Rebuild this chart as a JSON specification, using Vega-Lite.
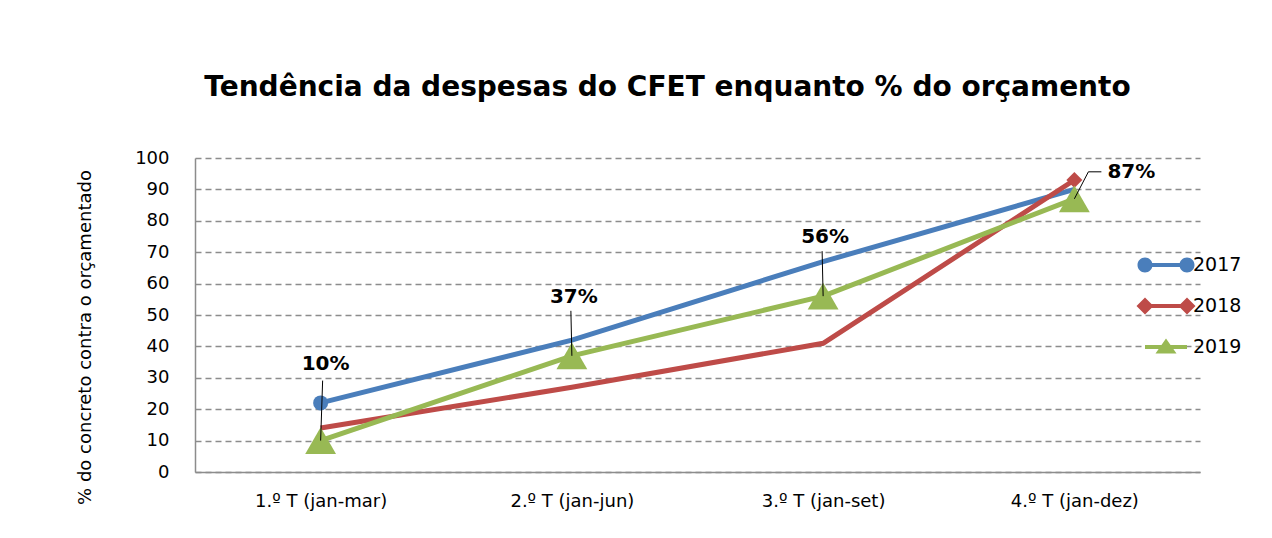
{
  "$schema": "https://vega.github.io/schema/vega-lite/v6.json",
  "width": 1005,
  "height": 314,
  "autosize": {"type": "none"},
  "padding": {"left": 195, "top": 158, "right": 72, "bottom": 66},
  "background": "white",
  "config": {"font": "DejaVu Sans", "view": {"stroke": null}},
  "title": {
    "text": "Tendência da despesas do CFET enquanto % do orçamento",
    "fontSize": 28,
    "fontWeight": "bold",
    "color": "black",
    "anchor": "middle",
    "dx": -30,
    "offset": 47
  },
  "datasets": {
    "d": [
      {"q": "1.º T (jan-mar)", "year": "2017", "value": 22},
      {"q": "2.º T (jan-jun)", "year": "2017", "value": 42},
      {"q": "3.º T (jan-set)", "year": "2017", "value": 67},
      {"q": "4.º T (jan-dez)", "year": "2017", "value": 90},
      {"q": "1.º T (jan-mar)", "year": "2018", "value": 14},
      {"q": "2.º T (jan-jun)", "year": "2018", "value": 27},
      {"q": "3.º T (jan-set)", "year": "2018", "value": 41},
      {"q": "4.º T (jan-dez)", "year": "2018", "value": 93},
      {"q": "1.º T (jan-mar)", "year": "2019", "value": 10, "label": "10%"},
      {"q": "2.º T (jan-jun)", "year": "2019", "value": 37, "label": "37%"},
      {"q": "3.º T (jan-set)", "year": "2019", "value": 56, "label": "56%"},
      {"q": "4.º T (jan-dez)", "year": "2019", "value": 87, "label": "87%"}
    ]
  },
  "data": {"name": "d"},
  "encoding": {
    "x": {
      "field": "q",
      "type": "nominal",
      "sort": ["1.º T (jan-mar)", "2.º T (jan-jun)", "3.º T (jan-set)", "4.º T (jan-dez)"],
      "scale": {"type": "point", "padding": 0.5},
      "axis": {
        "title": null,
        "labelAngle": 0,
        "labelFontSize": 18,
        "labelColor": "black",
        "labelPadding": 20,
        "ticks": false,
        "domainColor": "#8c8c8c",
        "domainWidth": 1.5,
        "grid": false
      }
    },
    "y": {
      "field": "value",
      "type": "quantitative",
      "scale": {"domain": [0, 100], "nice": false},
      "axis": {
        "values": [0, 10, 20, 30, 40, 50, 60, 70, 80, 90, 100],
        "grid": true,
        "gridDash": [6, 4],
        "gridColor": "#8c8c8c",
        "gridWidth": 1.3,
        "ticks": false,
        "labelFontSize": 18,
        "labelColor": "black",
        "labelPadding": 26,
        "domainColor": "#8c8c8c",
        "domainWidth": 1.5,
        "title": "%  do concreto contra o orçamentado",
        "titleFontSize": 18,
        "titleFontWeight": "normal",
        "titleColor": "black",
        "titleAngle": -90,
        "titleX": -110,
        "titleY": 179,
        "titleAlign": "center",
        "titleBaseline": "middle"
      }
    }
  },
  "layer": [
    {
      "mark": {"type": "line", "strokeWidth": 5},
      "encoding": {
        "color": {
          "field": "year",
          "type": "nominal",
          "scale": {"domain": ["2017", "2018", "2019"], "range": ["#4A7EBB", "#BE4B48", "#98B954"]},
          "legend": null
        }
      }
    },
    {
      "transform": [{"filter": "datum.year == '2017' && datum.q == '1.º T (jan-mar)'"}],
      "mark": {"type": "point", "shape": "circle", "filled": true, "opacity": 1, "size": 225, "color": "#4A7EBB"}
    },
    {
      "transform": [{"filter": "datum.year == '2018' && datum.q == '4.º T (jan-dez)'"}],
      "mark": {"type": "point", "shape": "diamond", "filled": true, "opacity": 1, "size": 256, "color": "#BE4B48"}
    },
    {
      "transform": [{"filter": "datum.year == '2019'"}],
      "mark": {"type": "point", "shape": "triangle-up", "filled": true, "opacity": 1, "size": 950, "color": "#98B954"}
    },
    {
      "transform": [{"filter": "datum.year == '2019' && datum.q == '1.º T (jan-mar)'"}],
      "mark": {"type": "rule", "color": "black", "strokeWidth": 1, "y2Offset": -60, "x2Offset": 2},
      "encoding": {"y2": {"field": "value"}, "x2": {"field": "q"}}
    },
    {
      "transform": [{"filter": "datum.year == '2019' && (datum.q == '2.º T (jan-jun)' || datum.q == '3.º T (jan-set)')"}],
      "mark": {"type": "rule", "color": "black", "strokeWidth": 1, "y2Offset": -45, "x2Offset": -1},
      "encoding": {"y2": {"field": "value"}, "x2": {"field": "q"}}
    },
    {
      "transform": [{"filter": "datum.year == '2019' && datum.q == '4.º T (jan-dez)'"}],
      "mark": {"type": "rule", "color": "black", "strokeWidth": 1, "y2Offset": -27, "x2Offset": 14},
      "encoding": {"y2": {"field": "value"}, "x2": {"field": "q"}}
    },
    {
      "transform": [{"filter": "datum.year == '2019' && datum.q == '4.º T (jan-dez)'"}],
      "mark": {"type": "rule", "color": "black", "strokeWidth": 1, "xOffset": 14, "x2Offset": 27, "yOffset": -27, "y2Offset": -27},
      "encoding": {"y2": {"field": "value"}, "x2": {"field": "q"}}
    },
    {
      "transform": [{"filter": "datum.year == '2019' && datum.q == '1.º T (jan-mar)'"}],
      "mark": {"type": "text", "fontSize": 20, "fontWeight": "bold", "color": "black", "dy": -77, "dx": 5, "baseline": "middle"},
      "encoding": {"text": {"field": "label"}}
    },
    {
      "transform": [{"filter": "datum.year == '2019' && (datum.q == '2.º T (jan-jun)' || datum.q == '3.º T (jan-set)')"}],
      "mark": {"type": "text", "fontSize": 20, "fontWeight": "bold", "color": "black", "dy": -59, "dx": 2, "baseline": "middle"},
      "encoding": {"text": {"field": "label"}}
    },
    {
      "transform": [{"filter": "datum.year == '2019' && datum.q == '4.º T (jan-dez)'"}],
      "mark": {"type": "text", "fontSize": 20, "fontWeight": "bold", "color": "black", "dy": -27, "dx": 33, "align": "left", "baseline": "middle"},
      "encoding": {"text": {"field": "label"}}
    },
    {
      "transform": [{"filter": "datum.year == 'none'"}],
      "mark": {"type": "point", "filled": true, "opacity": 1},
      "encoding": {
        "color": {
          "field": "year",
          "type": "nominal",
          "scale": {"domain": ["2017", "2018", "2019"], "range": ["#4A7EBB", "#BE4B48", "#98B954"]},
          "legend": {
            "title": null,
            "orient": "none",
            "legendX": 961,
            "legendY": 97,
            "padding": 0,
            "symbolSize": 400,
            "symbolStrokeWidth": 0,
            "symbolOpacity": 1,
            "labelFontSize": 19,
            "labelColor": "black",
            "labelOffset": 17,
            "rowPadding": 21
          }
        },
        "shape": {
          "field": "year",
          "type": "nominal",
          "scale": {
            "domain": ["2017", "2018", "2019"],
            "range": [
              "M-2.1,-0.2H2.1V0.2H-2.1Z M-1.35,0A0.75,0.75 0 1,1 -2.85,0A0.75,0.75 0 1,1 -1.35,0Z M2.85,0A0.75,0.75 0 1,1 1.35,0A0.75,0.75 0 1,1 2.85,0Z",
              "M-2.1,-0.2H2.1V0.2H-2.1Z M-2.1,-0.85L-1.25,0L-2.1,0.85L-2.95,0Z M2.1,-0.85L2.95,0L2.1,0.85L1.25,0Z",
              "M-2.1,-0.2H2.1V0.2H-2.1Z M0,-0.85L1.05,0.65L-1.05,0.65Z"
            ]
          }
        }
      }
    }
  ],
  "resolve": {"legend": {"color": "independent", "shape": "independent"}}
}
